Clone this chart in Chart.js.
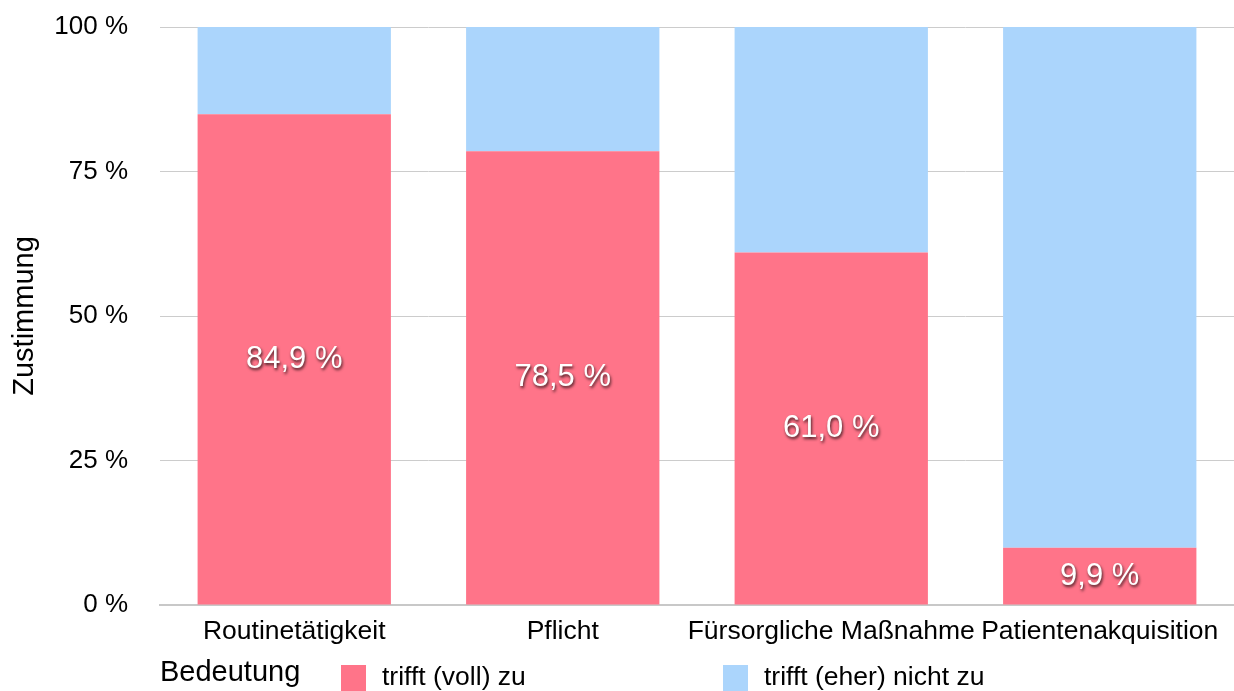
<!DOCTYPE html>
<html>
<head>
<meta charset="utf-8">
<script src="https://cdn.jsdelivr.net/npm/chart.js@4"></script>
<style>
    body { margin: 0; background: #fff; font-family: "Liberation Sans", Arial, sans-serif; }
    #wrap { position: relative; width: 1234px; height: 691px; }
    #legend { position: absolute; left: 0; top: 0; width: 1234px; height: 691px; pointer-events: none; }
    #legend .title { position: absolute; left: 160px; top: 655px; font-size: 29px; color: #000; }
    #legend .item { position: absolute; top: 661px; font-size: 26.5px; color: #000; white-space: nowrap; }
    #legend .box { display: inline-block; width: 25px; height: 26px; vertical-align: top; margin-top: 4px; margin-right: 16px; }
</style>
</head>
<body>
<div id="wrap">
    <canvas id="chart" width="1234" height="691"></canvas>
    <div id="legend"></div>
</div>
<script>
const categories = ['Routinetätigkeit', 'Pflicht', 'Fürsorgliche Maßnahme', 'Patientenakquisition'];
const seriesNames = ['trifft (voll) zu', 'trifft (eher) nicht zu'];
const zuValues = [84.9, 78.5, 61.0, 9.9];
const nichtZuValues = [15.1, 21.5, 39.0, 90.1];
const yTicks = [0, 25, 50, 75, 100];
const colors = ['#ff7489', '#abd5fc'];

// Prozentwerte in den roten Balken, weiss mit Schatten
const valueLabels = {
    id: 'valueLabels',
    afterDatasetsDraw(chart) {
        const ctx = chart.ctx;
        const meta = chart.getDatasetMeta(0);
        ctx.save();
        ctx.font = '31px "Liberation Sans", Arial, sans-serif';
        ctx.fillStyle = '#fff';
        ctx.textAlign = 'center';
        ctx.textBaseline = 'middle';
        ctx.shadowColor = 'rgba(0,0,0,0.75)';
        ctx.shadowBlur = 3;
        ctx.shadowOffsetX = 1;
        ctx.shadowOffsetY = 2;
        meta.data.forEach((bar, i) => {
            const y = (bar.y + bar.base) / 2;
            const txt = zuValues[i].toFixed(1).replace('.', ',') + ' %';
            ctx.fillText(txt, bar.x, y);
        });
        ctx.restore();
    }
};

new Chart(document.getElementById('chart').getContext('2d'), {
    type: 'bar',
    data: {
        labels: categories,
        datasets: [
            { label: seriesNames[0], data: zuValues, backgroundColor: colors[0] },
            { label: seriesNames[1], data: nichtZuValues, backgroundColor: colors[1] }
        ]
    },
    options: {
        responsive: false,
        animation: false,
        layout: { padding: { top: 27, right: 0, bottom: 0, left: 0 } },
        datasets: { bar: { categoryPercentage: 1, barPercentage: 0.72 } },
        plugins: {
            legend: { display: false },
            tooltip: { enabled: false }
        },
        scales: {
            x: {
                stacked: true,
                grid: { display: false },
                border: { display: true, color: '#c8c8c8', width: 2 },
                ticks: {
                    color: '#000',
                    padding: 3,
                    maxRotation: 0,
                    autoSkip: false,
                    font: { family: '"Liberation Sans", Arial, sans-serif', size: 26.5 }
                },
                afterFit: scale => {
                    scale.height = 86;
                    scale.paddingLeft = 0;
                    scale.paddingRight = 0;
                }
            },
            y: {
                stacked: true,
                min: 0,
                max: 100,
                afterBuildTicks: scale => { scale.ticks = yTicks.map(v => ({ value: v })); },
                grid: { color: '#cccccc', lineWidth: 1, drawTicks: false },
                border: { display: false },
                ticks: {
                    color: '#000',
                    padding: 32,
                    font: { family: '"Liberation Sans", Arial, sans-serif', size: 26 },
                    callback: v => v + ' %'
                },
                title: {
                    display: true,
                    text: 'Zustimmung',
                    color: '#000',
                    padding: { top: 8, bottom: 0 },
                    font: { family: '"Liberation Sans", Arial, sans-serif', size: 29 }
                },
                afterFit: scale => {
                    scale.width = 160;
                    scale.paddingTop = 0;
                    scale.paddingBottom = 0;
                }
            }
        }
    },
    plugins: [valueLabels]
});

// Legende unten, wie im Original links mit Titel
const legend = document.getElementById('legend');
const title = document.createElement('div');
title.className = 'title';
title.textContent = 'Bedeutung';
legend.appendChild(title);
const itemLeft = [341, 723];
seriesNames.forEach((name, i) => {
    const item = document.createElement('div');
    item.className = 'item';
    item.style.left = itemLeft[i] + 'px';
    item.innerHTML = '<span class="box" style="background:' + colors[i] + '"></span>' + name;
    legend.appendChild(item);
});
</script>
</body>
</html>
